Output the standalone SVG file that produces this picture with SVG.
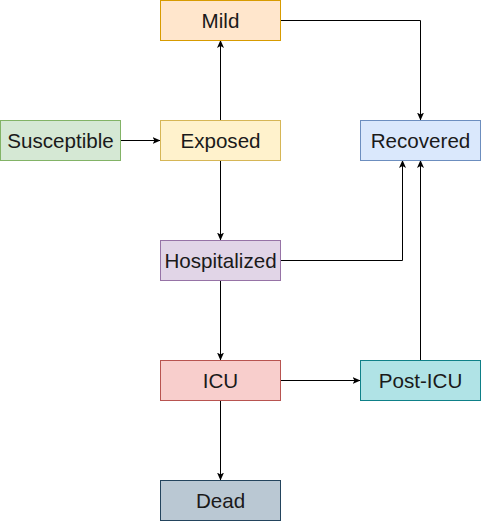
<svg xmlns="http://www.w3.org/2000/svg" width="481" height="521" viewBox="0 0 481 521">
<defs>
<style>
.n rect{stroke-width:1}
.n text{font-family:"Liberation Sans",Arial,sans-serif;font-size:20.6px;fill:#1a1a1a;text-anchor:middle}
.e path{fill:none;stroke:#000;stroke-width:1;marker-end:url(#a)}
</style>
<marker id="a" viewBox="0 0 8 8" refX="7.5" refY="4" markerWidth="8" markerHeight="8" markerUnits="userSpaceOnUse" orient="auto">
<path d="M0,0.5 L8,4 L0,7.5 L2,4 Z" fill="#000"/>
</marker>
</defs>
<rect width="481" height="521" fill="#fff"/>
<g class="e">
<path d="M120.5,140.5 H160"/>
<path d="M220.5,120.5 V40.5"/>
<path d="M280.5,20.5 H420.5 V120"/>
<path d="M220.5,160.5 V240"/>
<path d="M280.5,260.5 H402.5 V160.5"/>
<path d="M220.5,280.5 V360"/>
<path d="M280.5,380.5 H360"/>
<path d="M420.5,360.5 V160.5"/>
<path d="M220.5,400.5 V480"/>
</g>
<g id="mild" class="n"><rect x="160.5" y="0.5" width="120" height="40" fill="#ffe6cc" stroke="#d79b00"/><text x="220.5" y="27.7">Mild</text></g>
<g id="susceptible" class="n"><rect x="0.5" y="120.5" width="120" height="40" fill="#d5e8d4" stroke="#82b366"/><text x="60.5" y="147.7">Susceptible</text></g>
<g id="exposed" class="n"><rect x="160.5" y="120.5" width="120" height="40" fill="#fff2cc" stroke="#d6b656"/><text x="220.5" y="147.7">Exposed</text></g>
<g id="recovered" class="n"><rect x="360.5" y="120.5" width="120" height="40" fill="#dae8fc" stroke="#6c8ebf"/><text x="420.5" y="147.7">Recovered</text></g>
<g id="hospitalized" class="n"><rect x="160.5" y="240.5" width="120" height="40" fill="#e1d5e7" stroke="#9673a6"/><text x="220.5" y="267.7">Hospitalized</text></g>
<g id="icu" class="n"><rect x="160.5" y="360.5" width="120" height="40" fill="#f8cecc" stroke="#b85450"/><text x="220.5" y="387.7">ICU</text></g>
<g id="posticu" class="n"><rect x="360.5" y="360.5" width="120" height="40" fill="#b0e3e6" stroke="#0e8088"/><text x="420.5" y="387.7">Post-ICU</text></g>
<g id="dead" class="n"><rect x="160.5" y="480.5" width="120" height="40" fill="#bac8d3" stroke="#23445d"/><text x="220.5" y="507.7">Dead</text></g>
</svg>
